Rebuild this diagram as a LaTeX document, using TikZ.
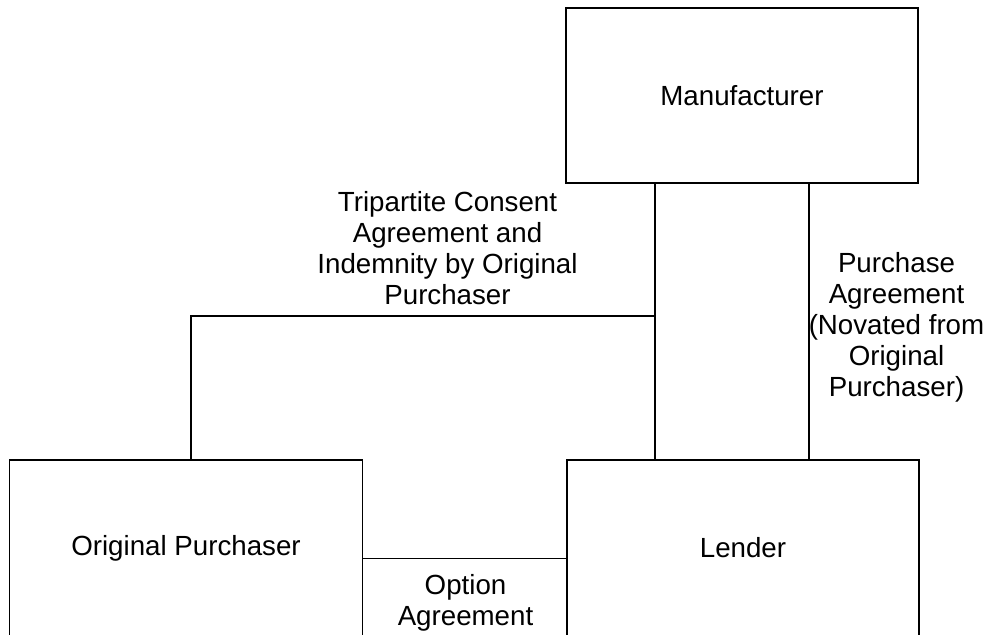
\documentclass[tikz,border=0pt]{standalone}
\usepackage{fontspec}
\setmainfont{Liberation Sans}
\begin{document}
\begin{tikzpicture}[x=1pt,y=-1pt,line width=1.8pt,
  box/.style={draw,inner sep=0pt,font=\fontsize{27.7}{31}\selectfont},
  lbl/.style={align=center,inner sep=0pt,font=\fontsize{27.7}{31}\selectfont}]
\useasboundingbox (0,0) rectangle (987,634);
\clip (0,0) rectangle (987,634);
\node[box,minimum width=352pt,minimum height=175pt] (mfr) at (742,95.5) {Manufacturer};
\node[box,minimum width=353pt,minimum height=176pt] (op) at (186,548) {Original Purchaser};
\node[box,minimum width=352pt,minimum height=176pt] (lender) at (743,548) {Lender};
\coordinate (cA) at (655,316);
\coordinate (cB) at (809,0);
\coordinate (cC) at (191,0);
\coordinate (cD) at (0,558.5);
\draw (mfr.south -| cA) -- (lender.north -| cA);
\draw (mfr.south -| cB) -- (lender.north -| cB);
\draw (cA) -| (op.north -| cC);
\draw (op.east |- cD) -- (lender.west |- cD);
\node[lbl,anchor=base] (tri) at (447.5,304) {Tripartite Consent\\Agreement and\\Indemnity by Original\\Purchaser};
\node[lbl,anchor=base] (pa) at (896.5,396) {Purchase\\Agreement\\(Novated from\\Original\\Purchaser)};
\node[lbl,anchor=base] (oa) at (465.5,625) {Option\\Agreement};
\end{tikzpicture}
\end{document}
